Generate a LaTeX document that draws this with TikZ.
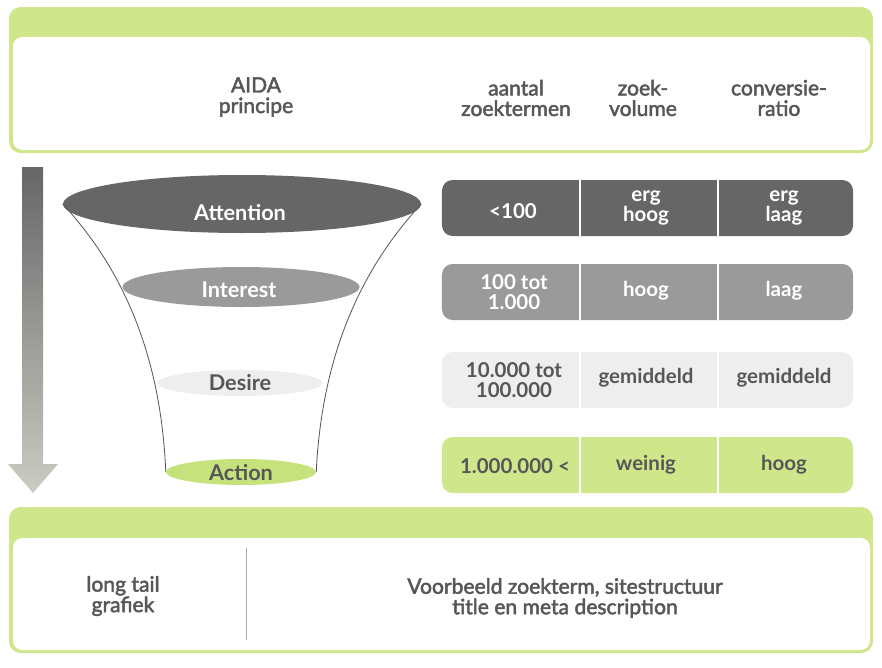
\documentclass[tikz,border=0pt]{standalone}
\usepackage{fontspec}
\setmainfont{Lato}
\newfontfamily\headfont{Lato}[FakeBold=2.2]
\usetikzlibrary{shapes.geometric, arrows.meta, positioning}
\definecolor{aidagreen}{HTML}{CFE68A}
\definecolor{actiongreen}{HTML}{C6E27C}
\definecolor{txtgray}{HTML}{575757}
\definecolor{darkrow}{HTML}{666666}
\definecolor{midrow}{HTML}{9A9A9A}
\definecolor{lightrow}{HTML}{EEEEEE}
\definecolor{arrowlight}{HTML}{CBCBC4}

\begin{document}
\begin{tikzpicture}[
    x=0.03cm, y=-0.03cm,
    every node/.style={align=center, text=txtgray, inner sep=0pt},
    head/.style={font=\headfont\fontsize{18}{17.5}\selectfont},
    cell/.style={font=\bfseries\fontsize{17.5}{16.5}\selectfont},
    stage/.style={ellipse, draw=none},
    stagetext/.style={font=\bfseries\fontsize{18.5}{18}\selectfont},
    rowbox/.style={rectangle, rounded corners=9pt, minimum width=12.33cm, minimum height=1.68cm},
    funnel/.style={draw=txtgray, line width=0.7pt}
]
\useasboundingbox (0,0) rectangle (882,668);

% PANELS
\fill[aidagreen, rounded corners=10pt] (9,7) rectangle (873,153);
\fill[white, rounded corners=8pt] (13,37) rectangle (870,150);
\fill[aidagreen, rounded corners=10pt] (9,507) rectangle (873,653);
\fill[white, rounded corners=8pt] (13,538) rectangle (870,650);
\draw[gray!70, line width=0.6pt] (246,548) -- (246,640);

% HEADER
\node[head] (aida) at (256,97) {AIDA\\principe};
\node[head] (aantal) at (516,98) {aantal\\zoektermen};
\node[head] (volume) at (643,98) {zoek-\\volume};
\node[head] (ratio) at (779,98) {conversie-\\ratio};

% DOWN ARROW
\shade[top color=darkrow, bottom color=arrowlight] (22,167) -- (43,167) -- (43,464) -- (58,464)
    -- (33,493) -- (8,464) -- (22,464) -- cycle;

% FUNNEL
\node[stage, fill=darkrow, minimum width=10.74cm, minimum height=1.74cm] (attention) at (242,204) {};
\node[stage, fill=midrow, minimum width=7.11cm, minimum height=1.2cm] (interest) at (241,287) {};
\node[stage, fill=lightrow, minimum width=4.95cm, minimum height=0.78cm] (desire) at (240,383) {};
\node[stage, fill=actiongreen, minimum width=4.5cm, minimum height=0.78cm] (action) at (241,472) {};
\draw[funnel] (attention.west) .. controls (105,250) and (160,330) .. (action.west);
\draw[funnel] (attention.east) .. controls (379,250) and (323,330) .. (action.east);
\node[stagetext, text=white] (attention-t) at (240,213) {Attention};
\node[stagetext, text=white] (interest-t) at (239,290) {Interest};
\node[stagetext] (desire-t) at (240,383) {Desire};
\node[stagetext] (action-t) at (241,473) {Action};

% TABLE
\node[rowbox, fill=darkrow] (row1) at (647.5,208) {};
\node[rowbox, fill=midrow] (row2) at (647.5,292) {};
\node[rowbox, fill=lightrow] (row3) at (647.5,380) {};
\node[rowbox, fill=aidagreen] (row4) at (647.5,465) {};
\foreach \r in {1,...,4} {
    \draw[white, line width=1.5pt] (580,0 |- row\r.north) -- (580,0 |- row\r.south);
    \draw[white, line width=1.5pt] (718,0 |- row\r.north) -- (718,0 |- row\r.south);
}
\node[cell, text=white] (c11) at (513,211) {<100};
\node[cell, text=white] (c12) at (646,208) {erg\\hoog};
\node[cell, text=white] (c13) at (784,208) {erg\\laag};
\node[cell, text=white] (c21) at (514,292) {100 tot\\1.000};
\node[cell, text=white] (c22) at (646,291) {hoog};
\node[cell, text=white] (c23) at (784,291) {laag};
\node[cell] (c31) at (514,380) {10.000 tot\\100.000};
\node[cell] (c32) at (646,378) {gemiddeld};
\node[cell] (c33) at (784,378) {gemiddeld};
\node[cell] (c41) at (515,466) {1.000.000 <};
\node[cell] (c42) at (646,465) {weinig};
\node[cell] (c43) at (784,465) {hoog};

% FOOTER
\node[head] (longtail) at (123,596) {long tail\\grafiek};
\node[head] (example) at (565,598) {Voorbeeld zoekterm, sitestructuur\\title en meta description};

\end{tikzpicture}
\end{document}
